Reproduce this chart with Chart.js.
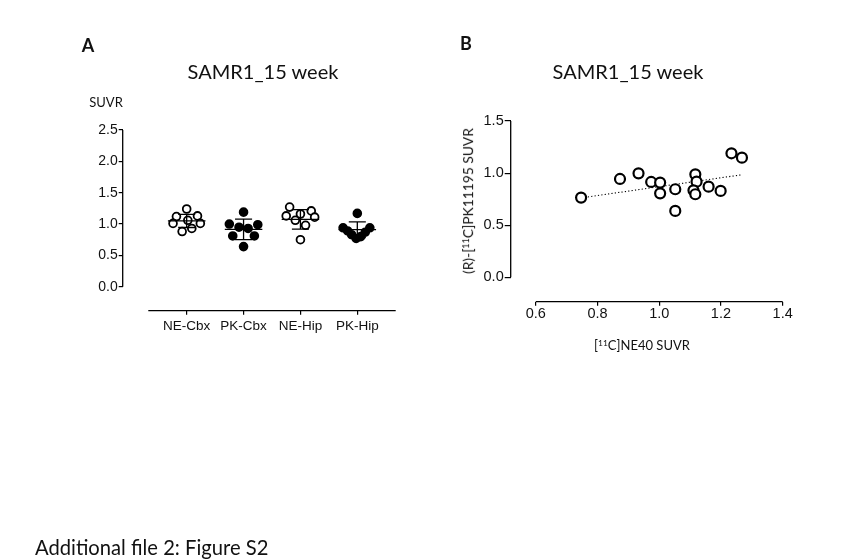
<!DOCTYPE html>
<html>
<head>
<meta charset="utf-8">
<script src="https://cdn.jsdelivr.net/npm/chart.js@4.4.1/dist/chart.umd.min.js"></script>
<style>
  body { margin: 0; background: #fff; }
  #page { position: relative; width: 845px; height: 560px; overflow: hidden; }
  canvas { position: absolute; left: 0; top: 0; }
  .lbl { position: absolute; line-height: 1; white-space: nowrap; color: #111;
         font-family: Lato, sans-serif; transform: translate(-50%, -50%); }
  .panel { font-weight: bold; font-size: 18px; }
  .ttl { font-size: 20px; }
  .small { font-size: 13px; }
  sup { font-size: 0.65em; vertical-align: 0.45em; line-height: 0; }
</style>
</head>
<body>
<div id="page">
  <canvas id="chartA" width="845" height="560"></canvas>
  <canvas id="chartB" width="845" height="560"></canvas>

  <div class="lbl panel" style="left:88px; top:45px;">A</div>
  <div class="lbl panel" style="left:466px; top:43px;">B</div>
  <div class="lbl ttl" style="left:263px; top:71px;">SAMR1_15 week</div>
  <div class="lbl ttl" style="left:628px; top:71px;">SAMR1_15 week</div>
  <div class="lbl small" style="left:106px; top:102px;">SUVR</div>
  <div class="lbl small" style="left:642px; top:345px;">[<sup>11</sup>C]NE40 SUVR</div>
  <div class="lbl small" style="left:468px; top:201px; font-size:13.8px; transform: translate(-50%, -50%) rotate(-90deg);">(R)-[<sup>11</sup>C]PK11195 SUVR</div>
  <div class="lbl" style="left:35px; top:547px; font-size:20.2px; transform: translate(0, -50%);">Additional file 2: Figure S2</div>
</div>

<script>
// ---- panel A: scatter dot plot, mean +/- SD ----
const groups = ["NE-Cbx", "PK-Cbx", "NE-Hip", "PK-Hip"];
const neCbx = [1.24, 1.12, 1.13, 1.01, 1.01, 1.06, 0.88, 0.93];
const pkCbx = [1.19, 1.00, 0.99, 0.95, 0.93, 0.81, 0.81, 0.64];
const neHip = [1.27, 1.21, 1.16, 1.13, 1.11, 1.06, 0.98, 0.75];
const pkHip = [1.17, 0.94, 0.89, 0.83, 0.77, 0.80, 0.87, 0.94];
const groupMean = [1.05, 0.915, 1.075, 0.91];
const groupSD = [0.105, 0.165, 0.155, 0.125];
const yTicksA = [0, 0.5, 1.0, 1.5, 2.0, 2.5];

// horizontal scatter of the dots inside each column
const neCbxSpread = [0, -0.18, 0.19, -0.24, 0.24, 0.02, -0.08, 0.09];
const pkCbxSpread = [0, -0.25, 0.25, -0.08, 0.08, -0.19, 0.19, 0];
const neHipSpread = [-0.19, 0.19, 0, -0.25, 0.25, -0.09, 0.09, 0];
const pkHipSpread = [0, -0.25, -0.17, -0.1, -0.02, 0.06, 0.14, 0.22];

// ---- panel B: correlation ----
const ne40 = [0.747, 0.873, 0.933, 0.974, 1.003, 1.003, 1.052, 1.052, 1.117, 1.121, 1.111, 1.117, 1.160, 1.199, 1.234, 1.268];
const pk11195 = [0.765, 0.944, 0.998, 0.915, 0.909, 0.806, 0.845, 0.637, 0.988, 0.918, 0.835, 0.797, 0.870, 0.829, 1.190, 1.148];
const fitX = [0.747, 1.265];
const fitY = [0.762, 0.983];
const xTicksB = [0.6, 0.8, 1.0, 1.2, 1.4];
const yTicksB = [0, 0.5, 1.0, 1.5];

const tickFont = { family: "'Liberation Sans', Arial, sans-serif", size: 14 };

// GraphPad style detached axes, drawn only over the tick range
const offsetAxes = {
  id: "offsetAxes",
  beforeDatasetsDraw(chart, args, opts) {
    const { ctx, scales: { x, y } } = chart;
    ctx.save();
    ctx.strokeStyle = "#000";
    ctx.lineWidth = 1.3;
    ctx.beginPath();
    ctx.moveTo(x.left, y.getPixelForValue(opts.yFrom));
    ctx.lineTo(x.left, y.getPixelForValue(opts.yTo));
    ctx.moveTo(x.getPixelForValue(opts.xFrom), y.bottom);
    ctx.lineTo(x.getPixelForValue(opts.xTo), y.bottom);
    ctx.stroke();
    ctx.restore();
  }
};

function dots(values, spread, col, open) {
  return {
    data: values.map((v, i) => ({ x: col + spread[i], y: v })),
    pointRadius: 3.9,
    pointBorderWidth: 1.8,
    pointBorderColor: "#000",
    pointBackgroundColor: open ? "#fff" : "#000",
    showLine: false,
    order: 2
  };
}

// mean line + SD whisker with caps, one broken line per column
const barPts = [];
groupMean.forEach((m, i) => {
  const c = i + 1, s = groupSD[i];
  barPts.push({ x: c - 0.33, y: m }, { x: c + 0.33, y: m }, { x: c, y: null });
  barPts.push({ x: c, y: m + s }, { x: c, y: m - s }, { x: c, y: null });
  barPts.push({ x: c - 0.15, y: m + s }, { x: c + 0.15, y: m + s }, { x: c, y: null });
  barPts.push({ x: c - 0.15, y: m - s }, { x: c + 0.15, y: m - s }, { x: c, y: null });
});

new Chart(document.getElementById("chartA"), {
  type: "scatter",
  data: {
    datasets: [
      { data: barPts, showLine: true, spanGaps: false, borderColor: "#000", borderWidth: 1.3, pointRadius: 0, order: 1 },
      dots(neCbx, neCbxSpread, 1, true),
      dots(pkCbx, pkCbxSpread, 2, false),
      dots(neHip, neHipSpread, 3, true),
      dots(pkHip, pkHipSpread, 4, false)
    ]
  },
  options: {
    responsive: false,
    animation: false,
    layout: { padding: { left: 82.7, top: 130, right: 449.3, bottom: 219.3 } },
    plugins: {
      legend: { display: false },
      tooltip: { enabled: false },
      offsetAxes: { yFrom: 0, yTo: 2.5, xFrom: 0.325, xTo: 4.675 }
    },
    scales: {
      x: {
        type: "linear", min: -0.125, max: 4.675,
        border: { display: false },
        grid: { drawOnChartArea: false, drawTicks: true, tickLength: 4, color: "#000", lineWidth: 1.2 },
        afterBuildTicks: s => { s.ticks = groups.map((g, i) => ({ value: i + 1 })); },
        afterFit: s => { s.height = 30; },
        ticks: { autoSkip: false, maxRotation: 0, padding: 3, color: "#111",
                 font: { family: tickFont.family, size: 13.5 },
                 callback: v => groups[Math.round(v) - 1] }
      },
      y: {
        min: -0.382, max: 2.5,
        border: { display: false },
        grid: { drawOnChartArea: false, drawTicks: true, tickLength: 4, color: "#000", lineWidth: 1.2 },
        afterBuildTicks: s => { s.ticks = yTicksA.map(v => ({ value: v })); },
        afterFit: s => { s.width = 40; },
        ticks: { padding: 1, color: "#111", font: tickFont, callback: v => v.toFixed(1) }
      }
    }
  },
  plugins: [offsetAxes]
});

new Chart(document.getElementById("chartB"), {
  type: "scatter",
  data: {
    datasets: [
      {
        data: ne40.map((v, i) => ({ x: v, y: pk11195[i] })),
        pointRadius: 5, pointBorderWidth: 2.2,
        pointBorderColor: "#000", pointBackgroundColor: "#fff",
        showLine: false, order: 1
      },
      {
        data: fitX.map((v, i) => ({ x: v, y: fitY[i] })),
        showLine: true, borderColor: "#000", borderWidth: 1.1, borderDash: [1.2, 2.2],
        pointRadius: 0, order: 2
      }
    ]
  },
  options: {
    responsive: false,
    animation: false,
    layout: { padding: { left: 470.7, top: 121, right: 62.3, bottom: 228.3 } },
    plugins: {
      legend: { display: false },
      tooltip: { enabled: false },
      offsetAxes: { yFrom: 0, yTo: 1.5, xFrom: 0.6, xTo: 1.4 }
    },
    scales: {
      x: {
        type: "linear", min: 0.519, max: 1.4,
        border: { display: false },
        grid: { drawOnChartArea: false, drawTicks: true, tickLength: 4, color: "#000", lineWidth: 1.2 },
        afterBuildTicks: s => { s.ticks = xTicksB.map(v => ({ value: v })); },
        afterFit: s => { s.height = 30; },
        ticks: { autoSkip: false, maxRotation: 0, padding: 0, color: "#111",
                 font: { family: tickFont.family, size: 14.5 }, callback: v => v.toFixed(1) }
      },
      y: {
        min: -0.234, max: 1.5,
        border: { display: false },
        grid: { drawOnChartArea: false, drawTicks: true, tickLength: 6, color: "#000", lineWidth: 1.2 },
        afterBuildTicks: s => { s.ticks = yTicksB.map(v => ({ value: v })); },
        afterFit: s => { s.width = 40; },
        ticks: { padding: 1, color: "#111", font: { family: tickFont.family, size: 14.5 },
                 callback: v => v.toFixed(1) }
      }
    }
  },
  plugins: [offsetAxes]
});
</script>
</body>
</html>
